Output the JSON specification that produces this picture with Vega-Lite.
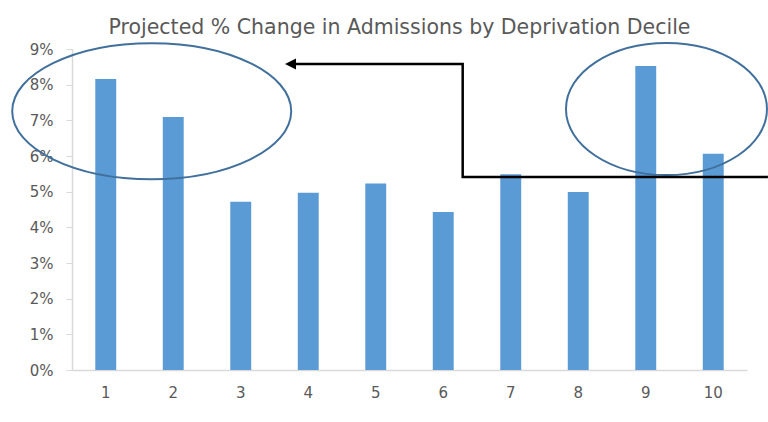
{
  "$schema": "https://vega.github.io/schema/vega-lite/v6.json",
  "width": 675,
  "height": 321,
  "autosize": {"type": "none"},
  "padding": {"left": 72, "top": 49, "right": 21, "bottom": 52},
  "background": "white",
  "title": {
    "text": "Projected % Change in Admissions by Deprivation Decile",
    "font": "DejaVu Sans",
    "fontSize": 20.5,
    "fontWeight": "normal",
    "color": "#595959",
    "anchor": "middle",
    "frame": "group",
    "baseline": "alphabetic",
    "offset": 12,
    "dx": -10,
    "dy": 28
  },
  "config": {
    "view": {"stroke": null},
    "axis": {"labelFont": "DejaVu Sans", "labelFontSize": 15, "labelColor": "#595959", "domainColor": "#d9d9d9", "tickColor": "#d9d9d9", "grid": false, "title": null, "labelOverlap": false}
  },
  "resolve": {"scale": {"x": "independent"}},
  "layer": [
    {
      "data": {"values": [
        {"decile": "1", "change": 0.0816},
        {"decile": "2", "change": 0.0709},
        {"decile": "3", "change": 0.0472},
        {"decile": "4", "change": 0.0497},
        {"decile": "5", "change": 0.0523},
        {"decile": "6", "change": 0.0443},
        {"decile": "7", "change": 0.0549},
        {"decile": "8", "change": 0.0499},
        {"decile": "9", "change": 0.0852},
        {"decile": "10", "change": 0.0606}
      ]},
      "mark": {"type": "bar", "color": "#5b9bd5"},
      "encoding": {
        "x": {"field": "decile", "type": "ordinal", "sort": null,
          "scale": {"paddingInner": 0.69, "paddingOuter": 0.345},
          "axis": {"labelAngle": 0, "ticks": false, "labelPadding": 15, "domainWidth": 1.5}},
        "y": {"field": "change", "type": "quantitative",
          "scale": {"domain": [0, 0.09], "nice": false},
          "axis": {"format": ".0%", "values": [0,0.01,0.02,0.03,0.04,0.05,0.06,0.07,0.08,0.09], "tickSize": 6, "labelPadding": 13, "domainWidth": 1.5, "labelOverlap": false, "labelBound": false}}
      }
    },
    {
      "data": {"values": [{"x": 1.681, "y": 0.07256}]},
      "mark": {"type": "point", "shape": "M -1 0 A 1 0.4875 0 1 0 1 0 A 1 0.4875 0 1 0 -1 0 Z", "size": 77841, "filled": false, "stroke": "#41709c", "strokeWidth": 2, "opacity": 1},
      "encoding": {
        "x": {"field": "x", "type": "quantitative", "scale": {"domain": [0.5, 10.5], "nice": false, "zero": false}, "axis": null},
        "y": {"field": "y", "type": "quantitative",
          "axis": {"format": ".0%", "values": [0,0.01,0.02,0.03,0.04,0.05,0.06,0.07,0.08,0.09], "tickSize": 6, "labelPadding": 13, "domainWidth": 1.5, "labelOverlap": false, "labelBound": false}}
      }
    },
    {
      "data": {"values": [{"x": 9.307, "y": 0.07317}]},
      "mark": {"type": "point", "shape": "M -1 0 A 1 0.657 0 1 0 1 0 A 1 0.657 0 1 0 -1 0 Z", "size": 40401, "filled": false, "stroke": "#41709c", "strokeWidth": 2, "opacity": 1},
      "encoding": {
        "x": {"field": "x", "type": "quantitative", "scale": {"domain": [0.5, 10.5], "nice": false, "zero": false}, "axis": null},
        "y": {"field": "y", "type": "quantitative",
          "axis": {"format": ".0%", "values": [0,0.01,0.02,0.03,0.04,0.05,0.06,0.07,0.08,0.09], "tickSize": 6, "labelPadding": 13, "domainWidth": 1.5, "labelOverlap": false, "labelBound": false}}
      }
    },
    {
      "data": {"values": [
        {"step": 1, "x": 10.81, "y": 0.0541},
        {"step": 2, "x": 6.288, "y": 0.0541},
        {"step": 3, "x": 6.288, "y": 0.0858},
        {"step": 4, "x": 3.737, "y": 0.0858}
      ]},
      "mark": {"type": "line", "color": "black", "strokeWidth": 2.5, "strokeJoin": "miter", "clip": false},
      "encoding": {
        "x": {"field": "x", "type": "quantitative", "scale": {"domain": [0.5, 10.5], "nice": false, "zero": false}, "axis": null},
        "y": {"field": "y", "type": "quantitative",
          "axis": {"format": ".0%", "values": [0,0.01,0.02,0.03,0.04,0.05,0.06,0.07,0.08,0.09], "tickSize": 6, "labelPadding": 13, "domainWidth": 1.5, "labelOverlap": false, "labelBound": false}},
        "order": {"field": "step", "type": "quantitative"}
      }
    },
    {
      "data": {"values": [{"x": 3.737, "y": 0.0858}]},
      "mark": {"type": "point", "shape": "M -1 0 L 1 -1 L 1 1 Z", "size": 121, "filled": true, "color": "black", "opacity": 1},
      "encoding": {
        "x": {"field": "x", "type": "quantitative", "scale": {"domain": [0.5, 10.5], "nice": false, "zero": false}, "axis": null},
        "y": {"field": "y", "type": "quantitative",
          "axis": {"format": ".0%", "values": [0,0.01,0.02,0.03,0.04,0.05,0.06,0.07,0.08,0.09], "tickSize": 6, "labelPadding": 13, "domainWidth": 1.5, "labelOverlap": false, "labelBound": false}}
      }
    }
  ]
}
